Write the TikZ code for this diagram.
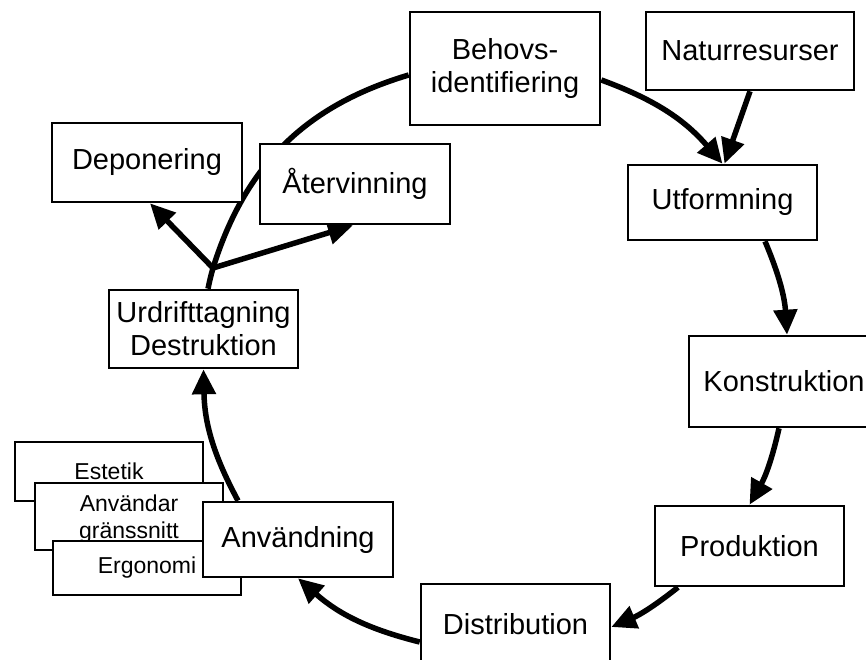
\documentclass[tikz,border=0pt]{standalone}
\usepackage{fontspec}
\setmainfont{Liberation Sans}
\usetikzlibrary{arrows.meta,backgrounds}
\begin{document}
\begin{tikzpicture}[x=1pt,y=-1pt,
  box/.style={draw, line width=2.6pt, fill=white, align=center, inner sep=0pt, font=\fontsize{29}{33}\selectfont},
  smallbox/.style={box, font=\fontsize{23}{27}\selectfont},
  flow/.style={line width=5.5pt, -{Triangle[length=25pt,width=23pt]}},
  ring/.style={line width=5.5pt}]
\useasboundingbox (0,0) rectangle (866,660);
\node[box, minimum width=190pt, minimum height=113pt] (behov) at (505,68.5) {Behovs-\\identifiering};
\node[box, minimum width=208pt, minimum height=78pt] (natur) at (750,51) {Naturresurser};
\node[box, minimum width=189pt, minimum height=75pt] (utform) at (722.5,202.5) {Utformning};
\node[box, minimum width=190pt, minimum height=91pt] (konstr) at (784,381.5) {Konstruktion};
\node[box, minimum width=189pt, minimum height=80pt] (prod) at (749.5,546) {Produktion};
\node[box, minimum width=189pt, minimum height=80pt] (distr) at (515.5,624) {Distribution};
\node[smallbox, minimum width=188pt, minimum height=59pt] (estetik) at (109,471.5) {Estetik};
\node[smallbox, align=none, minimum width=188pt, minimum height=67pt] (anvgr) at (129,516.5) {\raisebox{-9.5pt}[0pt][0pt]{\begin{tabular}{@{}c@{}}Användar\\gränssnitt\end{tabular}}};
\node[smallbox, minimum width=188pt, minimum height=54pt] (ergo) at (147,568) {Ergonomi};
\node[box, minimum width=190pt, minimum height=75pt] (anvand) at (298,539.5) {Användning};
\node[box, minimum width=189pt, minimum height=78pt] (urdr) at (203.5,329) {Urdrifttagning\\Destruktion};
\node[box, minimum width=190pt, minimum height=79pt] (depon) at (147,162.5) {Deponering};
\node[box, minimum width=190pt, minimum height=80pt] (ater) at (355,184) {Återvinning};
\coordinate (j) at (213,268);
\begin{scope}[on background layer]
\draw[flow] ([yshift=-11.5pt]behov.east) to[bend left=14.6] (utform.north);
\draw[flow] (natur.south) -- ([xshift=2pt]utform.north);
\draw[flow] ([xshift=42.5pt]utform.south) to[bend left=9.6] ([xshift=3pt]konstr.north);
\draw[flow] ([xshift=-5pt]konstr.south) to[bend left=8.4] (prod.north);
\draw[flow] ([xshift=-71.5pt]prod.south) to[bend left=7.7] ([yshift=-3pt]distr.east);
\draw[flow] ([yshift=-18pt]distr.west) to[bend left=13.6] (anvand.south);
\draw[flow] ([xshift=-60pt]anvand.north) to[bend left=13.6] (urdr.south);
\draw[ring] ([xshift=4.5pt]urdr.north) to[bend left=2] (j) to[bend left=28] ([yshift=-6.5pt]behov.west);
\draw[flow] (j) -- ([xshift=3pt]depon.south);
\draw[flow] (j) -- ([xshift=-2pt]ater.south);
\end{scope}
\end{tikzpicture}
\end{document}
